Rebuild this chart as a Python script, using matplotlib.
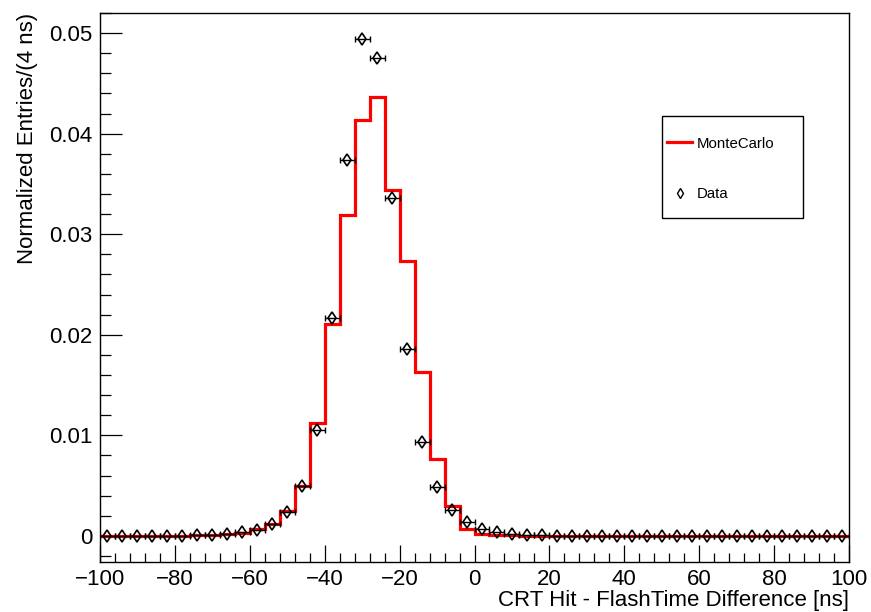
import numpy as np
import matplotlib
matplotlib.use("Agg")
import matplotlib.pyplot as plt
from matplotlib.lines import Line2D
from matplotlib.patches import Rectangle
from matplotlib.ticker import MultipleLocator, FuncFormatter

plt.rcParams['font.family'] = ['Liberation Sans', 'DejaVu Sans']

# 4 ns bins from -100 to 100 ns
bin_edges = np.arange(-100, 101, 4)
bin_centers = bin_edges[:-1] + 2

# Simulated CRT hit - flash time difference, normalized
mc_values = [
    0.0, 0.0, 0.0, 0.0, 0.00001, 0.00002, 0.00004, 0.00008, 0.00016, 0.00032,
    0.00064, 0.00122, 0.00250, 0.00492, 0.01122, 0.02110, 0.03190, 0.04135, 0.04365, 0.03440,
    0.02738, 0.01625, 0.00765, 0.00300, 0.00070, 0.00018, 0.00008, 0.00004, 0.00002, 0.00001,
    0.00001, 0.00001, 0.00001, 0.00001, 0.00001, 0.00001, 0.00001, 0.00001, 0.00001, 0.00001,
    0.00001, 0.00001, 0.00001, 0.00001, 0.00001, 0.00001, 0.00001, 0.00001, 0.00001, 0.00001,
]

# Measured distribution, normalized
data_values = [
    0.00001, 0.00001, 0.00001, 0.00001, 0.00001, 0.00003, 0.00005, 0.00008, 0.00017, 0.00036,
    0.00060, 0.00117, 0.00233, 0.00492, 0.01056, 0.02162, 0.03738, 0.04940, 0.04750, 0.03362,
    0.01863, 0.00930, 0.00481, 0.00261, 0.00135, 0.00069, 0.00038, 0.00022, 0.00010, 0.00005,
    0.00003, 0.00001, 0.00001, 0.00001, 0.00001, 0.00001, 0.00001, 0.00001, 0.00001, 0.00001,
    0.00001, 0.00001, 0.00001, 0.00001, 0.00001, 0.00001, 0.00001, 0.00001, 0.00001, 0.00001,
]

x_ticks = [-100, -80, -60, -40, -20, 0, 20, 40, 60, 80, 100]
y_ticks = [0.0, 0.01, 0.02, 0.03, 0.04, 0.05]
legend_labels = ['MonteCarlo', 'Data']

W, H = 871, 612
fig = plt.figure(figsize=(W / 100, H / 100), dpi=100)
ax = fig.add_axes([100 / W, 1 - 562 / H, 749 / W, 549 / H])

ax.stairs(mc_values, bin_edges, color='#ff0000', linewidth=2.3, zorder=2)

ax.errorbar(bin_centers, data_values, xerr=2, fmt='none', ecolor='black',
            elinewidth=1.0, capsize=2.0, capthick=1.0, zorder=3)
ax.plot(bin_centers, data_values, linestyle='none', marker='d', markersize=6,
        markerfacecolor='none', markeredgecolor='black', markeredgewidth=1.2,
        zorder=4)

ax.set_xlim(-100, 100)
ax.set_ylim(-0.0026, 0.052)

ax.set_xticks(x_ticks)
ax.set_yticks(y_ticks)
ax.xaxis.set_minor_locator(MultipleLocator(4))
ax.yaxis.set_minor_locator(MultipleLocator(0.002))
ax.yaxis.set_major_formatter(FuncFormatter(lambda v, p: '0' if abs(v) < 1e-9 else f'{v:.2f}'))

ax.tick_params(axis='both', which='both', direction='in', top=False, right=False,
               width=0.9, labelsize=16)
ax.tick_params(axis='y', which='major', length=16, pad=5.5)
ax.tick_params(axis='y', which='minor', length=8)
ax.tick_params(axis='x', which='major', length=12, pad=5)
ax.tick_params(axis='x', which='minor', length=6.5)

for s in ax.spines.values():
    s.set_linewidth(1.0)

ax.set_xlabel('CRT Hit - FlashTime Difference [ns]', fontsize=16, loc='right', labelpad=0)
ax.set_ylabel('Normalized Entries/(4 ns)', fontsize=16, loc='top', labelpad=8)


# ROOT-style legend box, laid out in figure pixels
def fx(px):
    return px / W


def fy(py):
    return 1 - py / H


tf = fig.transFigure
fig.add_artist(Rectangle((fx(662), fy(218)), fx(803) - fx(662), fy(116) - fy(218),
                         transform=tf, facecolor='white', edgecolor='black',
                         linewidth=1.0, zorder=5))
fig.add_artist(Line2D([fx(667), fx(692)], [fy(142), fy(142)], transform=tf,
                      color='#ff0000', linewidth=2.3, zorder=6))
fig.add_artist(Line2D([fx(679.5)], [fy(193)], transform=tf, linestyle='none',
                      marker='d', markersize=5, markerfacecolor='none',
                      markeredgecolor='black', markeredgewidth=1.0, zorder=6))
fig.text(fx(697), fy(148.3), legend_labels[0], fontsize=10.8, va='baseline',
         ha='left', zorder=6)
fig.text(fx(697), fy(198.3), legend_labels[1], fontsize=10.8, va='baseline',
         ha='left', zorder=6)

fig.savefig('out.png', dpi=100)
